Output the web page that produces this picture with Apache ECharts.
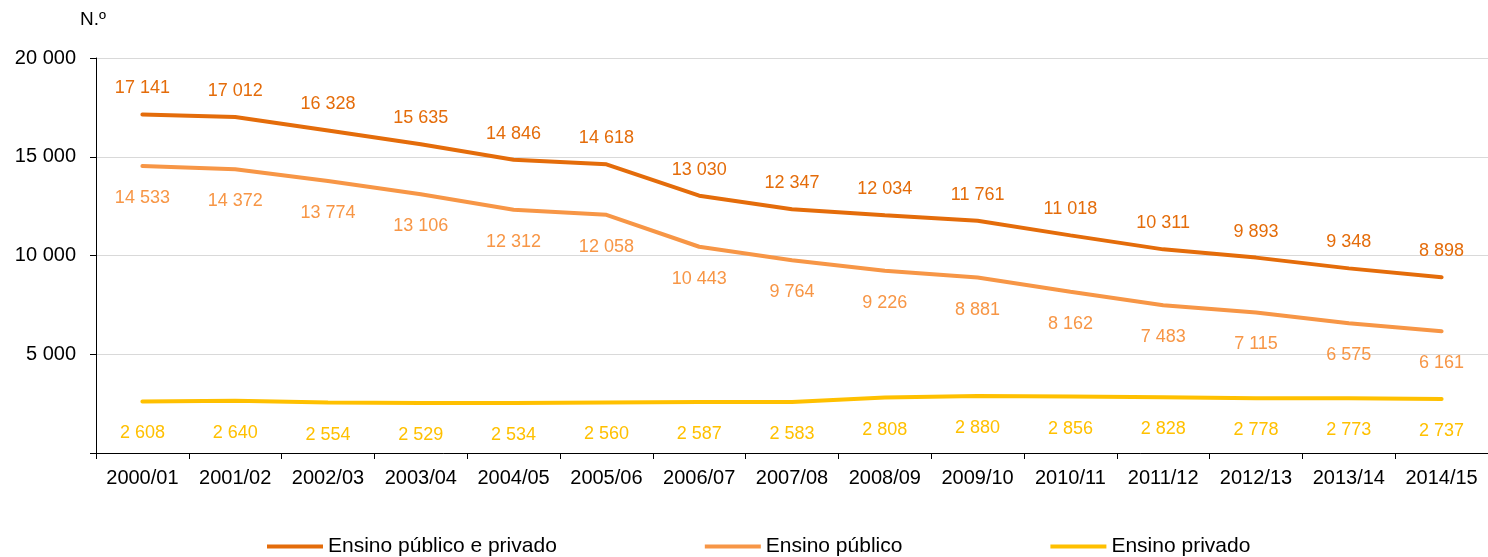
<!DOCTYPE html>
<html><head><meta charset="utf-8">
<script src="https://cdn.jsdelivr.net/npm/echarts@6/dist/echarts.min.js"></script>
<style>html,body{margin:0;padding:0;background:#fff}#c{width:1488px;height:557px}</style>
</head><body><div id="c"></div>
<script>
const categories = ['2000/01','2001/02','2002/03','2003/04','2004/05','2005/06','2006/07','2007/08','2008/09','2009/10','2010/11','2011/12','2012/13','2013/14','2014/15'];
const total = [17141,17012,16328,15635,14846,14618,13030,12347,12034,11761,11018,10311,9893,9348,8898];
const publico = [14533,14372,13774,13106,12312,12058,10443,9764,9226,8881,8162,7483,7115,6575,6161];
const privado = [2608,2640,2554,2529,2534,2560,2587,2583,2808,2880,2856,2828,2778,2773,2737];
const seriesNames = ['Ensino público e privado','Ensino público','Ensino privado'];
const colors = ['#E46C0A','#F79646','#FFC000'];
const font = 'Liberation Sans, Arial, sans-serif';
const fmt = v => String(v).replace(/\B(?=(\d{3})+(?!\d))/g, ' ');
const chart = echarts.init(document.getElementById('c'));
function mk(name, data, color, pos, dist){
  return {name, type:'line', data, symbol:'circle', symbolSize:0.01, showSymbol:true, smooth:false,
    lineStyle:{color, width:4, cap:'round'}, itemStyle:{color},
    label:{show:true, position:pos, distance:dist, color, fontFamily:font, fontSize:18,
      formatter:p=>fmt(p.value)}};
}
chart.setOption({
  animation:false,
  textStyle:{fontFamily:font},
  grid:{left:96, right:0, top:58, bottom:104, containLabel:false},
  title:{text:'N.º', left:75, top:5, textStyle:{fontFamily:font, fontSize:19, fontWeight:'normal', color:'#000'}},
  legend:{top:531, left:262, itemWidth:56, itemHeight:4, itemGap:148, icon:'rect',
    textStyle:{fontFamily:font, fontSize:21, color:'#000'},
    data:seriesNames},
  xAxis:{type:'category', data:categories, boundaryGap:true,
    axisLine:{lineStyle:{color:'#000', width:1}},
    axisTick:{show:true, length:6, lineStyle:{color:'#000'}},
    axisLabel:{color:'#000', fontSize:20, fontFamily:font, margin:15, interval:0}},
  yAxis:{type:'value', min:0, max:20000, interval:5000,
    axisLine:{show:true, lineStyle:{color:'#000'}},
    axisTick:{show:true, inside:false, length:6, lineStyle:{color:'#000'}},
    splitLine:{lineStyle:{color:'#d9d9d9'}},
    axisLabel:{color:'#000', fontSize:20, fontFamily:font, margin:20,
      formatter:v=> v===0 ? '' : fmt(v)}},
  series:[
    mk(seriesNames[0], total, colors[0], 'top', 17),
    mk(seriesNames[1], publico, colors[1], 'bottom', 23),
    mk(seriesNames[2], privado, colors[2], 'bottom', 23)
  ]
});
</script></body></html>
